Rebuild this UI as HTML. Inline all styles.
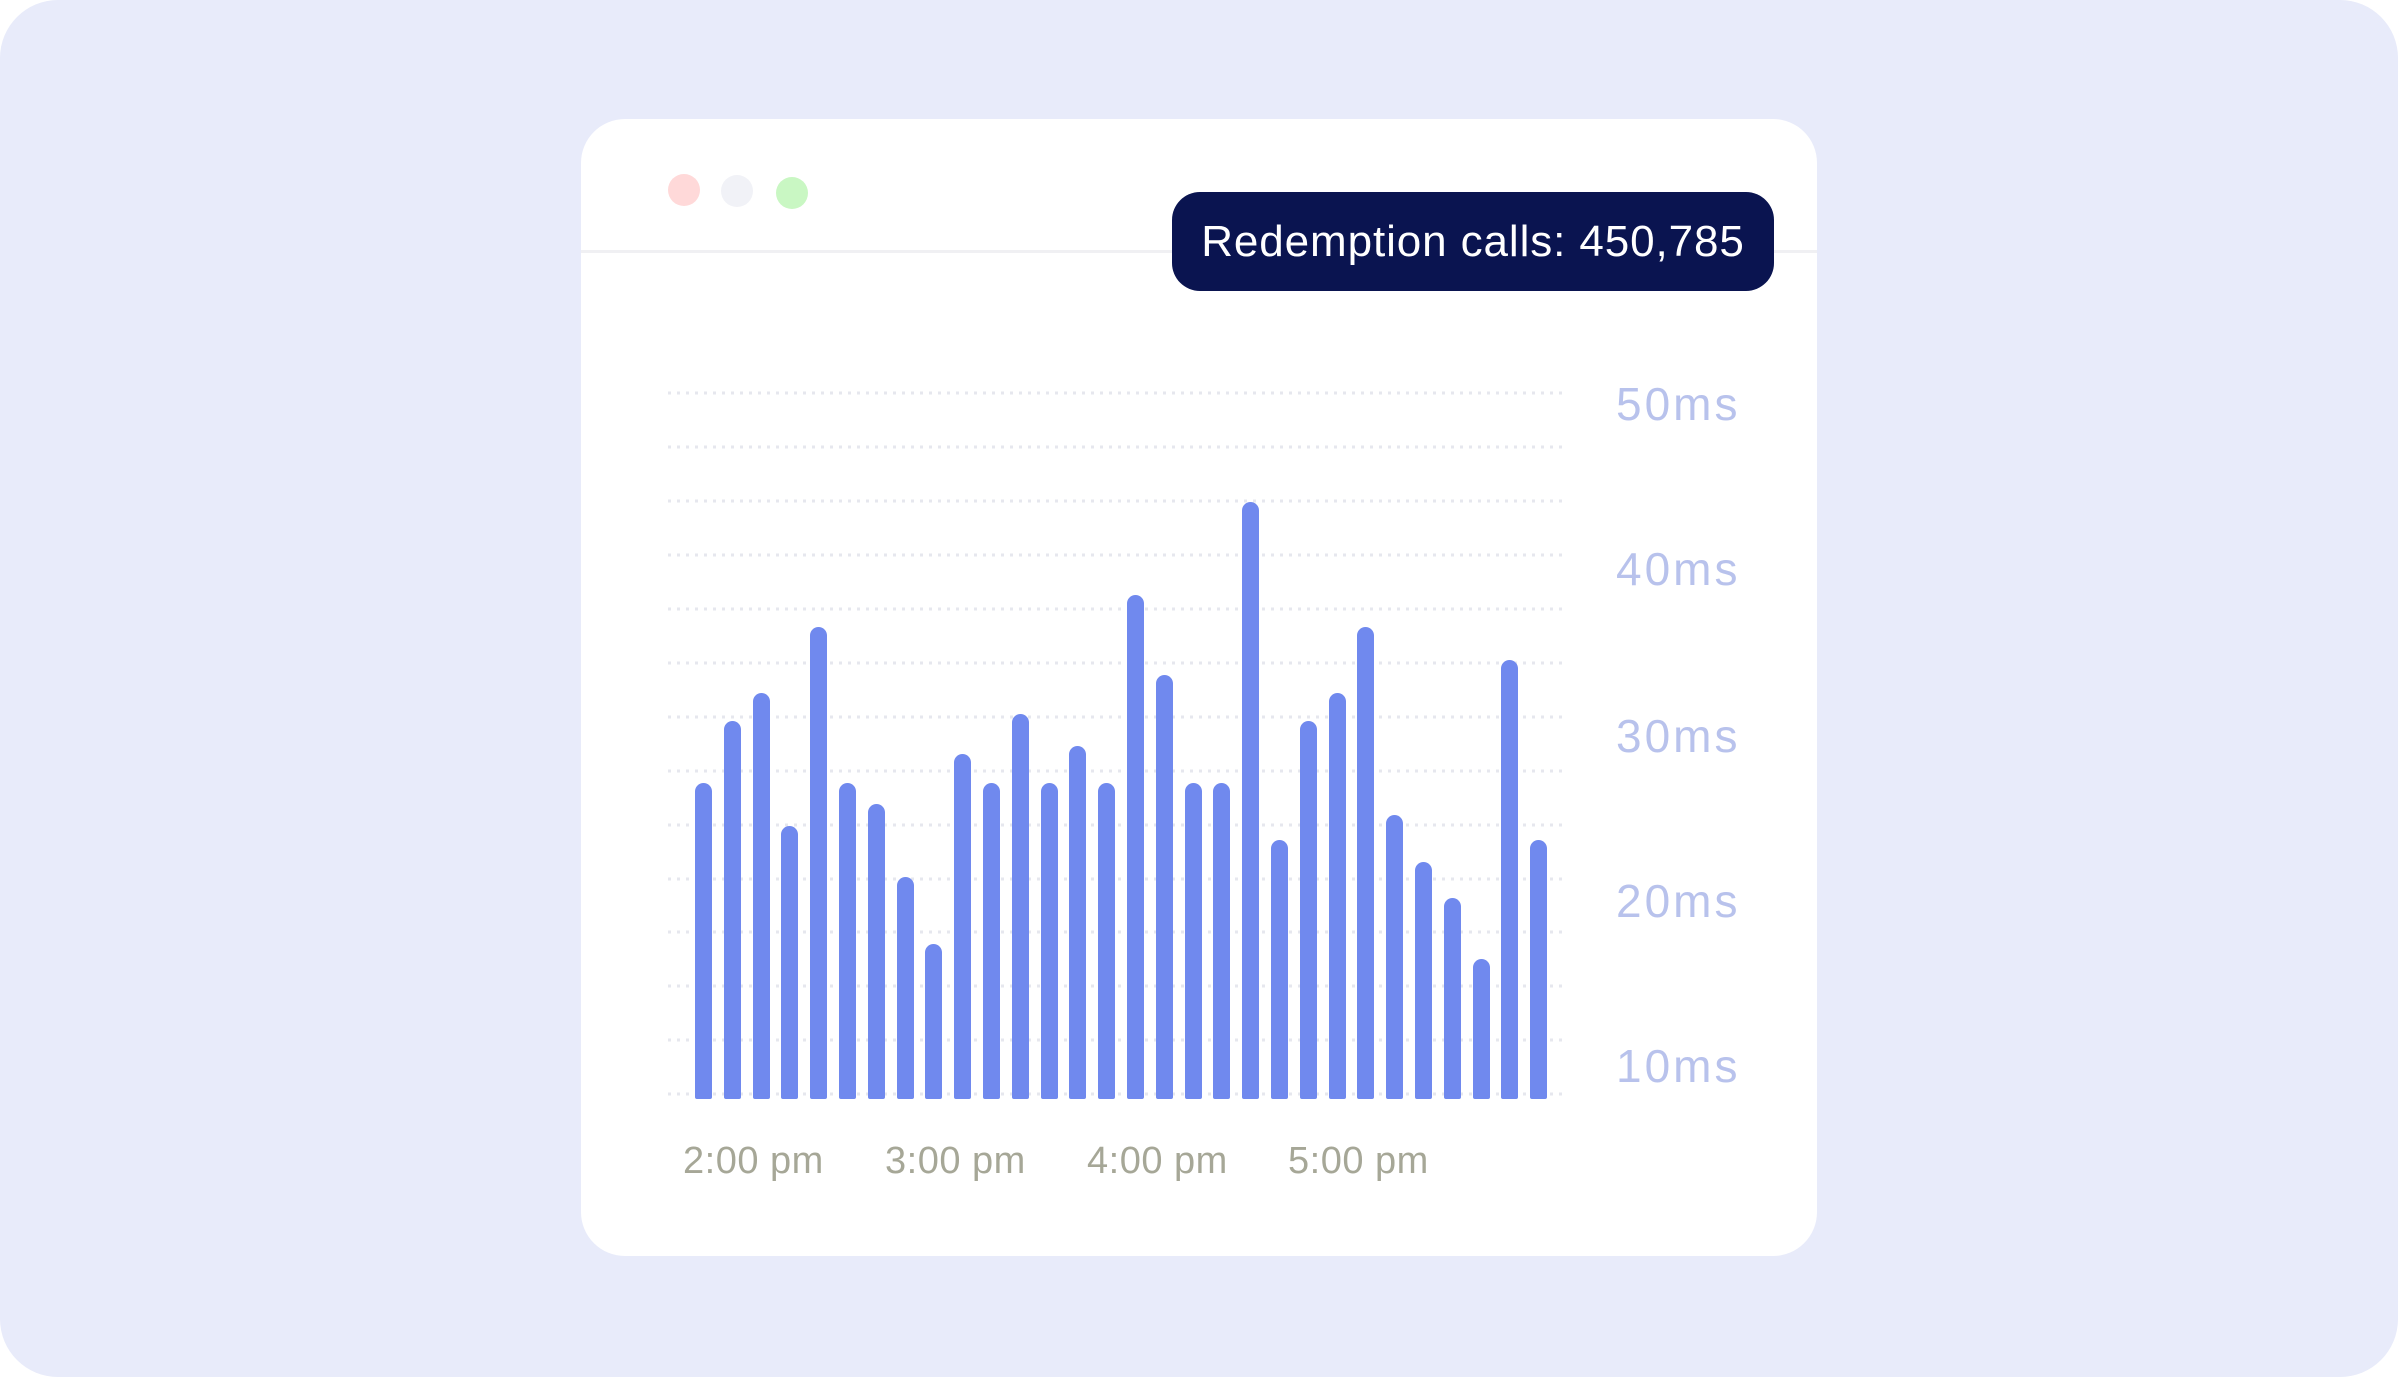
<!DOCTYPE html>
<html><head><meta charset="utf-8"><style>
html,body{margin:0;padding:0;background:#fff;}
body{width:2398px;height:1377px;position:relative;overflow:hidden;font-family:"Liberation Sans",sans-serif;}
.bg{position:absolute;left:0;top:0;width:2398px;height:1377px;background:#e8ebfa;border-radius:58px;}
.card{position:absolute;left:581px;top:119px;width:1236px;height:1137px;background:#fff;border-radius:44px;}
.dot{position:absolute;width:32px;height:32px;border-radius:50%;}
.sep{position:absolute;left:581px;top:250px;width:1236px;height:3px;background:#f0f0f3;}
.tip{position:absolute;left:1172px;top:192px;width:602px;height:99px;background:#0a1450;border-radius:28px;color:#fff;font-size:44px;line-height:99px;text-align:center;letter-spacing:0.9px;}
.yl{position:absolute;left:1616px;font-size:46px;color:#b8c2ec;line-height:1;letter-spacing:3px;}
.xl{position:absolute;font-size:38px;color:#a6a797;line-height:1;top:1142px;letter-spacing:0.5px;}
.bar{position:absolute;width:17px;background:#7089ee;border-radius:8.5px 8.5px 2px 2px;}
</style></head><body>
<div class="bg"></div>
<div class="card"></div>
<div class="sep"></div>
<div class="dot" style="left:668px;top:174px;background:#ffd9d9"></div>
<div class="dot" style="left:721px;top:175px;background:#f1f2f7"></div>
<div class="dot" style="left:776px;top:177px;background:#c9f7c3"></div>
<div class="tip">Redemption calls: 450,785</div>
<svg style="position:absolute;left:0;top:0" width="2398" height="1377">
<g stroke="#e6e7ee" stroke-width="3" stroke-dasharray="3 6">
<line x1="668" x2="1568" y1="393" y2="393"/><line x1="668" x2="1568" y1="447" y2="447"/>
<line x1="668" x2="1568" y1="501" y2="501"/><line x1="668" x2="1568" y1="555" y2="555"/>
<line x1="668" x2="1568" y1="609" y2="609"/><line x1="668" x2="1568" y1="663" y2="663"/>
<line x1="668" x2="1568" y1="717" y2="717"/><line x1="668" x2="1568" y1="771" y2="771"/>
<line x1="668" x2="1568" y1="825" y2="825"/><line x1="668" x2="1568" y1="879" y2="879"/>
<line x1="668" x2="1568" y1="932" y2="932"/><line x1="668" x2="1568" y1="986" y2="986"/>
<line x1="668" x2="1568" y1="1040" y2="1040"/><line x1="668" x2="1568" y1="1094" y2="1094"/>
</g></svg>
<div class="yl" style="top:381px">50ms</div>
<div class="yl" style="top:546px">40ms</div>
<div class="yl" style="top:713px">30ms</div>
<div class="yl" style="top:878px">20ms</div>
<div class="yl" style="top:1043px">10ms</div>
<div id="bars"></div>
<div class="xl" style="left:683px">2:00 pm</div>
<div class="xl" style="left:885px">3:00 pm</div>
<div class="xl" style="left:1087px">4:00 pm</div>
<div class="xl" style="left:1288px">5:00 pm</div>
<script>
var t=[783,721,693,826,627,783,804,877,944,754,783,714,783,746,783,595,675,783,783,502,840,721,693,627,815,862,898,959,660,840];
var h='';for(var i=0;i<30;i++){var x=695+i*28.8;h+='<div class="bar" style="left:'+x.toFixed(1)+'px;top:'+t[i]+'px;height:'+(1099-t[i])+'px"></div>';}
document.getElementById('bars').innerHTML=h;
</script>
</body></html>
